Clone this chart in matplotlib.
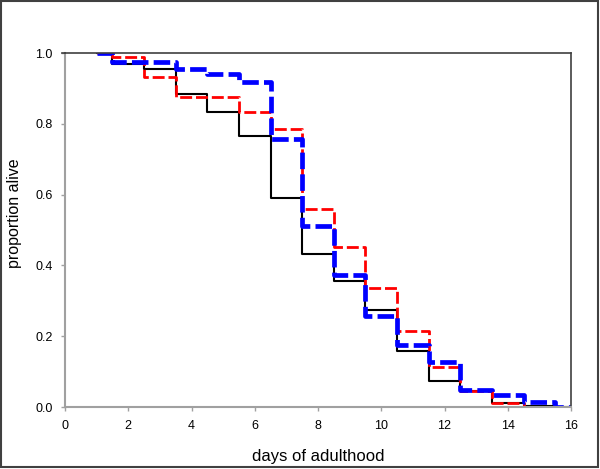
import matplotlib
matplotlib.use("Agg")
import matplotlib.pyplot as plt
from matplotlib.patches import Rectangle
from matplotlib.lines import Line2D

plt.rcParams['font.family'] = ['Liberation Sans', 'DejaVu Sans']

# step edges (days) and surviving proportion after each edge
days = [1, 1.5, 2.5, 3.5, 4.5, 5.5, 6.5, 7.5, 8.5, 9.5, 10.5, 11.5, 12.5, 13.5, 14.5, 15.5, 16]
black_surv = [1.0, 0.969, 0.955, 0.884, 0.832, 0.766, 0.589, 0.432, 0.357, 0.274,
              0.159, 0.074, 0.046, 0.012, 0.003, 0.0, 0.0]
red_surv = [1.0, 0.99, 0.933, 0.877, 0.877, 0.832, 0.785, 0.559, 0.451, 0.337,
            0.215, 0.113, 0.046, 0.012, 0.0, 0.0, 0.0]
blue_surv = [1.0, 0.975, 0.975, 0.954, 0.941, 0.919, 0.757, 0.512, 0.373, 0.257,
             0.175, 0.128, 0.048, 0.035, 0.013, 0.0, 0.0]

xticks = [0, 2, 4, 6, 8, 10, 12, 14, 16]
yticks = [0.0, 0.2, 0.4, 0.6, 0.8, 1.0]

fig = plt.figure(figsize=(6, 4.69), dpi=100)
ax = fig.add_axes([65 / 600, 1 - 407 / 469, 506 / 600, 354 / 469])

ax.step(days, black_surv, where='post', color='black', lw=1.5)
ax.step(days, red_surv, where='post', color='red', lw=2.0, dashes=(4.3, 1.4))
ax.step(days, blue_surv, where='post', color='blue', lw=3.4, dashes=(3.5, 1.1))

ax.set_xlim(0, 16)
ax.set_ylim(0, 1.0)
ax.set_xticks(xticks)
ax.set_yticks(yticks)
ax.set_yticklabels([f'{v:.1f}' for v in yticks])
ax.tick_params(direction='out', length=3, width=1, color='#a0a0a0', labelsize=9, pad=6)

for side in ['left', 'bottom']:
    ax.spines[side].set_color('#a0a0a0')
    ax.spines[side].set_linewidth(1.5)
for side in ['top', 'right']:
    ax.spines[side].set_color('#404040')
    ax.spines[side].set_linewidth(1.2)

ax.set_xlabel('days of adulthood', fontsize=12, va='center')
ax.set_ylabel('proportion alive', fontsize=11.5, va='center')
ax.xaxis.set_label_coords(0.5, -0.141)
ax.yaxis.set_label_coords(-0.099, 0.548)

# top frame line pokes out a bit to the left
fig.add_artist(Line2D([62 / 600, 65 / 600], [1 - 53 / 469, 1 - 53 / 469],
                      transform=fig.transFigure, color='#404040', lw=1.2))

# outer border of the figure
fig.patches.append(Rectangle((1 / 600, 2.5 / 469), 597 / 600, 465.5 / 469,
                             transform=fig.transFigure, fill=False,
                             ec='#404040', lw=1.5))

fig.savefig('out.png', dpi=100)
